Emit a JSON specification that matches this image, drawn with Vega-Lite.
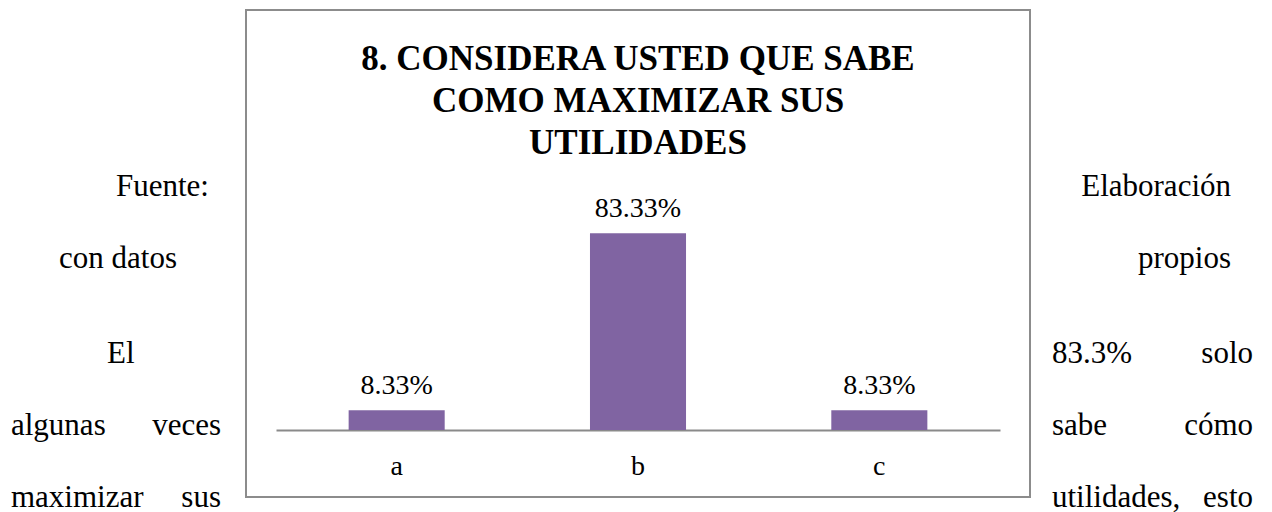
{
  "$schema": "https://vega.github.io/schema/vega-lite/v6.json",
  "padding": {"top": 9, "left": 0, "right": 0, "bottom": 0},
  "background": "white",
  "config": {"view": {"stroke": null}},
  "spacing": 0,
  "bounds": "flush",
  "datasets": {
    "barras": [
      {"opcion": "a", "porcentaje": 0.0833},
      {"opcion": "b", "porcentaje": 0.8333},
      {"opcion": "c", "porcentaje": 0.0833}
    ],
    "texto": [
      {"col": "izq", "parrafo": 1, "linea": 1, "lugar": "sangria", "texto": "Fuente:"},
      {"col": "izq", "parrafo": 1, "linea": 2, "lugar": "margen", "texto": "con datos"},
      {"col": "izq", "parrafo": 2, "linea": 3, "lugar": "sangria", "texto": "El"},
      {"col": "izq", "parrafo": 2, "linea": 4, "lugar": "margen", "texto": "algunas"},
      {"col": "izq", "parrafo": 2, "linea": 4, "lugar": "fin", "texto": "veces"},
      {"col": "izq", "parrafo": 2, "linea": 5, "lugar": "margen", "texto": "maximizar"},
      {"col": "izq", "parrafo": 2, "linea": 5, "lugar": "fin", "texto": "sus"},
      {"col": "der", "parrafo": 1, "linea": 1, "lugar": "fin", "texto": "Elaboración"},
      {"col": "der", "parrafo": 1, "linea": 2, "lugar": "fin", "texto": "propios"},
      {"col": "der", "parrafo": 2, "linea": 3, "lugar": "margen", "texto": "83.3%"},
      {"col": "der", "parrafo": 2, "linea": 3, "lugar": "fin", "texto": "solo"},
      {"col": "der", "parrafo": 2, "linea": 4, "lugar": "margen", "texto": "sabe"},
      {"col": "der", "parrafo": 2, "linea": 4, "lugar": "fin", "texto": "cómo"},
      {"col": "der", "parrafo": 2, "linea": 5, "lugar": "margen", "texto": "utilidades,"},
      {"col": "der", "parrafo": 2, "linea": 5, "lugar": "fin", "texto": "esto"}
    ]
  },
  "hconcat": [
    {
      "width": 246,
      "height": 503,
      "data": {"name": "texto"},
      "layer": [
        {
          "transform": [{"filter": "datum.col == 'izq' && datum.parrafo == 1 && datum.lugar != 'fin'"}],
          "mark": {"type": "text", "align": "left", "baseline": "alphabetic", "font": "Liberation Serif", "fontSize": 31, "color": "#000000"},
          "encoding": {
            "x": {"field": "lugar", "type": "nominal", "scale": {"type": "point", "domain": ["margen", "sangria"], "range": [59, 116], "padding": 0}, "axis": null},
            "y": {"field": "linea", "type": "ordinal", "scale": {"type": "point", "domain": [1, 2], "range": [186, 258], "padding": 0}, "axis": null},
            "text": {"field": "texto"}
          }
        },
        {
          "transform": [{"filter": "datum.col == 'izq' && datum.parrafo == 2 && datum.lugar != 'fin'"}],
          "mark": {"type": "text", "align": "left", "baseline": "alphabetic", "font": "Liberation Serif", "fontSize": 31, "color": "#000000"},
          "encoding": {
            "x": {"field": "lugar", "type": "nominal", "scale": {"type": "point", "domain": ["margen", "sangria"], "range": [11, 107], "padding": 0}, "axis": null},
            "y": {"field": "linea", "type": "ordinal", "scale": {"type": "point", "domain": [3, 4, 5], "range": [353, 497], "padding": 0}, "axis": null},
            "text": {"field": "texto"}
          }
        },
        {
          "transform": [{"filter": "datum.col == 'izq' && datum.parrafo == 2 && datum.lugar == 'fin'"}],
          "mark": {"type": "text", "align": "right", "baseline": "alphabetic", "font": "Liberation Serif", "fontSize": 31, "color": "#000000"},
          "encoding": {
            "x": {"field": "lugar", "type": "nominal", "scale": {"type": "point", "domain": ["fin"], "range": [221, 221], "padding": 0}, "axis": null},
            "y": {"field": "linea", "type": "ordinal", "scale": {"type": "point", "domain": [3, 4, 5], "range": [353, 497], "padding": 0}, "axis": null},
            "text": {"field": "texto"}
          }
        }
      ],
      "resolve": {"scale": {"x": "independent", "y": "independent"}}
    },
    {
      "width": 784,
      "height": 487,
      "view": {"stroke": "#8c8c8c", "strokeWidth": 2},
      "title": {
        "text": ["8. CONSIDERA USTED QUE SABE", "COMO MAXIMIZAR SUS", "UTILIDADES"],
        "font": "Liberation Serif",
        "fontWeight": "bold",
        "fontSize": 35,
        "lineHeight": 42,
        "anchor": "middle",
        "frame": "group",
        "orient": "top",
        "offset": -179,
        "baseline": "alphabetic",
        "color": "#000000"
      },
      "data": {"name": "barras"},
      "encoding": {
        "x": {
          "field": "opcion",
          "type": "nominal",
          "scale": {"type": "band", "range": [30, 754], "paddingInner": 0.602, "paddingOuter": 0.301},
          "axis": {
            "orient": "bottom",
            "offset": -67,
            "title": null,
            "grid": false,
            "ticks": false,
            "tickSize": 0,
            "domainColor": "#8a8a8a",
            "domainWidth": 2,
            "labelFont": "Liberation Serif",
            "labelFontSize": 28,
            "labelColor": "#000000",
            "labelAngle": 0,
            "labelPadding": 44,
            "labelBaseline": "alphabetic"
          }
        }
      },
      "layer": [
        {
          "mark": {"type": "bar", "color": "#8064A2"},
          "encoding": {
            "y": {"field": "porcentaje", "type": "quantitative", "scale": {"domain": [0, 1], "range": [420, 184]}, "axis": null}
          }
        },
        {
          "mark": {"type": "text", "baseline": "alphabetic", "dy": -16, "font": "Liberation Serif", "fontSize": 28, "color": "#000000"},
          "encoding": {
            "y": {"field": "porcentaje", "type": "quantitative"},
            "text": {"field": "porcentaje", "type": "quantitative", "format": ".2%"}
          }
        }
      ]
    },
    {
      "width": 242,
      "height": 503,
      "data": {"name": "texto"},
      "layer": [
        {
          "transform": [{"filter": "datum.col == 'der' && datum.parrafo == 1"}],
          "mark": {"type": "text", "align": "right", "baseline": "alphabetic", "font": "Liberation Serif", "fontSize": 31, "color": "#000000"},
          "encoding": {
            "x": {"field": "lugar", "type": "nominal", "scale": {"type": "point", "domain": ["fin"], "range": [201, 201], "padding": 0}, "axis": null},
            "y": {"field": "linea", "type": "ordinal", "scale": {"type": "point", "domain": [1, 2], "range": [186, 258], "padding": 0}, "axis": null},
            "text": {"field": "texto"}
          }
        },
        {
          "transform": [{"filter": "datum.col == 'der' && datum.parrafo == 2 && datum.lugar == 'margen'"}],
          "mark": {"type": "text", "align": "left", "baseline": "alphabetic", "font": "Liberation Serif", "fontSize": 31, "color": "#000000"},
          "encoding": {
            "x": {"field": "lugar", "type": "nominal", "scale": {"type": "point", "domain": ["margen"], "range": [22, 22], "padding": 0}, "axis": null},
            "y": {"field": "linea", "type": "ordinal", "scale": {"type": "point", "domain": [3, 4, 5], "range": [353, 497], "padding": 0}, "axis": null},
            "text": {"field": "texto"}
          }
        },
        {
          "transform": [{"filter": "datum.col == 'der' && datum.parrafo == 2 && datum.lugar == 'fin'"}],
          "mark": {"type": "text", "align": "right", "baseline": "alphabetic", "font": "Liberation Serif", "fontSize": 31, "color": "#000000"},
          "encoding": {
            "x": {"field": "lugar", "type": "nominal", "scale": {"type": "point", "domain": ["fin"], "range": [223, 223], "padding": 0}, "axis": null},
            "y": {"field": "linea", "type": "ordinal", "scale": {"type": "point", "domain": [3, 4, 5], "range": [353, 497], "padding": 0}, "axis": null},
            "text": {"field": "texto"}
          }
        }
      ],
      "resolve": {"scale": {"x": "independent", "y": "independent"}}
    }
  ]
}
